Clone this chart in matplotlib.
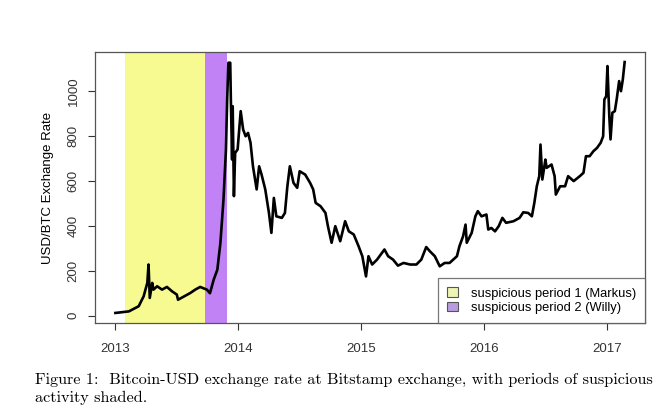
import matplotlib
matplotlib.use("Agg")
import matplotlib.pyplot as plt
from matplotlib.patches import Patch

# Bitstamp BTC/USD (decimal year, USD)
years = [2013.00, 2013.11, 2013.19, 2013.23, 2013.26, 2013.27, 2013.28, 2013.30, 2013.31, 2013.34,
         2013.38, 2013.42, 2013.46, 2013.50, 2013.51, 2013.56, 2013.61, 2013.65, 2013.69, 2013.745,
         2013.77, 2013.80, 2013.83, 2013.855, 2013.88, 2013.90, 2013.91, 2013.92, 2013.935, 2013.94,
         2013.95, 2013.955, 2013.965, 2013.975, 2013.995, 2014.02, 2014.04, 2014.06, 2014.08, 2014.10,
         2014.12, 2014.15, 2014.17, 2014.19, 2014.22, 2014.25, 2014.27, 2014.29, 2014.31, 2014.355,
         2014.38, 2014.40, 2014.42, 2014.45, 2014.48, 2014.50, 2014.545, 2014.585, 2014.61, 2014.63,
         2014.67, 2014.71, 2014.73, 2014.76, 2014.79, 2014.83, 2014.87, 2014.90, 2014.94, 2014.98,
         2015.01, 2015.04, 2015.06, 2015.09, 2015.13, 2015.15, 2015.19, 2015.22, 2015.26, 2015.30,
         2015.345, 2015.40, 2015.45, 2015.49, 2015.53, 2015.56, 2015.60, 2015.64, 2015.68, 2015.72,
         2015.78, 2015.80, 2015.83, 2015.85, 2015.86, 2015.90, 2015.93, 2015.95, 2015.98, 2016.02,
         2016.035, 2016.06, 2016.09, 2016.12, 2016.15, 2016.18, 2016.24, 2016.29, 2016.32, 2016.36,
         2016.39, 2016.41, 2016.43, 2016.45, 2016.46, 2016.475, 2016.50, 2016.51, 2016.55, 2016.575,
         2016.585, 2016.62, 2016.66, 2016.685, 2016.73, 2016.78, 2016.81, 2016.83, 2016.86, 2016.89,
         2016.92, 2016.95, 2016.97, 2016.98, 2016.995, 2017.005, 2017.02, 2017.03, 2017.045, 2017.065,
         2017.08, 2017.10, 2017.115, 2017.13, 2017.145]
price = [12, 19, 42, 86, 146, 228, 79, 146, 116, 131,
         116, 128, 109, 94, 71, 86, 101, 116, 128, 116,
         100, 160, 205, 325, 518, 741, 964, 1128, 1128, 964,
         696, 934, 533, 726, 741, 912, 830, 800, 815, 771,
         666, 563, 666, 629, 563, 458, 369, 525, 443, 436,
         458, 577, 666, 592, 570, 644, 629, 592, 563, 503,
         488, 458, 399, 325, 399, 332, 421, 376, 362, 309,
         265, 175, 265, 228, 250, 265, 295, 265, 250, 223,
         235, 228, 228, 250, 306, 287, 265, 220, 235, 235,
         265, 309, 354, 406, 325, 369, 443, 466, 443, 451,
         384, 391, 376, 399, 436, 414, 421, 436, 461, 458,
         443, 503, 577, 622, 763, 607, 696, 659, 674, 622,
         540, 577, 577, 622, 600, 622, 637, 711, 711, 733,
         748, 771, 800, 964, 979, 1113, 890, 786, 905, 912,
         964, 1046, 1001, 1053, 1131]

period_names = ["suspicious period 1 (Markus)", "suspicious period 2 (Willy)"]
period_start = [2013.08, 2013.73]
period_end = [2013.73, 2013.91]
period_colors = ["#f6fa90", "#c082f5"]
legend_colors = ["#eef4b4", "#b79ce0"]

xticks = [2013, 2014, 2015, 2016, 2017]
yticks = [0, 200, 400, 600, 800, 1000]

caption = ("Figure 1:  Bitcoin-USD exchange rate at Bitstamp exchange, with periods of suspicious\n"
           "activity shaded.")

plt.rcParams["font.family"] = ["Liberation Sans", "DejaVu Sans"]

fig = plt.figure(figsize=(6.68, 4.18), dpi=100)
ax = fig.add_axes([0.1422, 0.2273, 0.8234, 0.6483])

for s, e, c in zip(period_start, period_end, period_colors):
    ax.axvspan(s, e, color=c, lw=0, zorder=0)

ax.plot(years, price, color="black", lw=1.9, zorder=2)

# R-style 4% padding
xr = years[-1] - years[0]
yr = max(price) - min(price)
ax.set_xlim(years[0] - 0.04 * xr, years[-1] + 0.04 * xr)
ax.set_ylim(min(price) - 0.04 * yr, max(price) + 0.04 * yr)

ax.set_xticks(xticks)
ax.set_xticklabels([str(t) for t in xticks], fontsize=9.5)
ax.set_yticks(yticks)
ax.set_yticklabels([str(t) for t in yticks], fontsize=9.5, rotation=90, va="center")
ax.tick_params(direction="out", length=5, width=0.8, colors="#333333", pad=6)
ax.tick_params(axis="x", pad=9.5)
for sp in ax.spines.values():
    sp.set_color("#555555")
    sp.set_linewidth(0.9)
ax.set_ylabel("USD/BTC Exchange Rate", fontsize=9.5, labelpad=10)

handles = [Patch(facecolor=c, edgecolor="#555555", lw=0.8) for c in legend_colors]
leg = ax.legend(handles, period_names, loc="lower right", fontsize=9.3,
                frameon=True, fancybox=False, borderaxespad=0,
                handlelength=0.8, handleheight=0.8, handletextpad=1.0,
                labelspacing=0.15, borderpad=0.7)
leg.get_frame().set_edgecolor("#555555")
leg.get_frame().set_linewidth(0.9)

fig.text(0.052, 0.070, caption, family="cmr10", fontsize=11.7, ha="left", va="center",
         linespacing=1.3)

fig.savefig("out.png", dpi=100)
